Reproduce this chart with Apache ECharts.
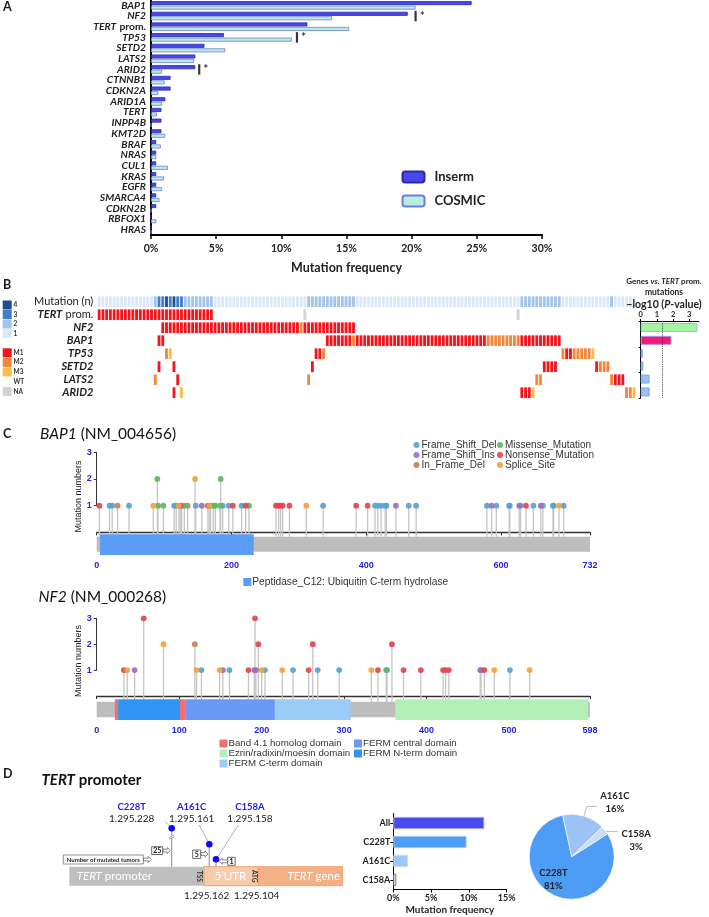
<!DOCTYPE html>
<html><head><meta charset="utf-8">
<script src="https://cdn.jsdelivr.net/npm/echarts@6/dist/echarts.min.js"></script>
<style>html,body{margin:0;padding:0;background:#fff}#c{width:709px;height:917px}</style>
</head><body><div id="c"></div>
<script>
// ================= DATA =================
// Panel A
const genesA = ['BAP1','NF2','TERT prom.','TP53','SETD2','LATS2','ARID2','CTNNB1','CDKN2A','ARID1A','TERT','INPP4B','KMT2D','BRAF','NRAS','CUL1','KRAS','EGFR','SMARCA4','CDKN2B','RBFOX1','HRAS'];
const insermFreq = [24.6,19.7,12.0,5.6,4.1,3.4,3.4,1.5,1.5,1.1,0.8,0.8,0.8,0.4,0.4,0.4,0.4,0.4,0.4,0.4,0,0];
const cosmicFreq = [20.3,13.9,15.2,10.8,5.7,3.3,0.85,1.05,0.55,0.85,0.45,0,1.1,0.75,0.4,1.3,1.0,0.85,0.65,0,0.4,0];
const sigGenes = ['NF2','TP53','ARID2'];
const sigPos = [20.3, 11.2, 3.7];

// Panel B (oncoprint) - runs [firstCol, lastCol, code]
const heatRows = ['Mutation (n)','TERT prom.','NF2','BAP1','TP53','SETD2','LATS2','ARID2'];
const nTumors = 144;
const mutCountRuns = [[0,14,1],[15,15,2],[16,17,3],[18,18,4],[19,19,3],[20,20,4],[21,22,3],[23,30,2],[31,55,1],[56,68,2],[69,112,1],[113,123,2],[124,136,1],[137,137,2],[138,143,1]];
const tertPromRuns = [[0,30,'M1'],[55,55,'NA'],[112,112,'NA']];
const nf2Runs = [[17,53,'M1'],[54,54,'M2'],[55,68,'M1']];
const bap1Runs = [[16,17,'M1'],[61,67,'M1'],[68,68,'M2'],[69,103,'M1'],[104,112,'M2'],[113,123,'M1']];
const tp53Runs = [[18,18,'M2'],[19,19,'M3'],[58,59,'M1'],[60,60,'M2'],[124,124,'M2'],[125,126,'M1'],[127,131,'M2'],[132,132,'M3']];
const setd2Runs = [[16,16,'M1'],[20,20,'M1'],[57,57,'M1'],[119,122,'M1'],[133,133,'M1'],[134,136,'M2']];
const lats2Runs = [[15,15,'M2'],[21,21,'M1'],[56,56,'M2'],[117,118,'M2'],[137,137,'M2'],[138,140,'M1']];
const arid2Runs = [[20,20,'M1'],[22,22,'M3'],[113,115,'M1'],[116,116,'M3'],[141,142,'M2'],[143,143,'M3']];
const pvalGenes = ['NF2','BAP1','TP53','SETD2','LATS2','ARID2'];
const pvalLog10 = [3.5, 1.9, 0.13, 0.17, 0.55, 0.55];
const pThreshold = 1.3;

// Panel C (lollipops) [position, count, type]  D=Frame_Shift_Del I=Frame_Shift_Ins F=In_Frame_Del M=Missense N=Nonsense S=Splice
const mutTypes = ['Frame_Shift_Del','Frame_Shift_Ins','In_Frame_Del','Missense_Mutation','Nonsense_Mutation','Splice_Site'];
const mutCodes = ['D','I','F','M','N','S'];
const bap1Length = 732;
const nf2Length = 598;
const bap1Muts = [[4,1,'N'],[19,1,'D'],[23,1,'D'],[31,1,'F'],[48,1,'D'],[84,1,'S'],[90,2,'M'],[91,1,'M'],[99,1,'M'],[115,1,'D'],[118,1,'D'],[122,1,'S'],[124,1,'N'],[126,1,'D'],[130,1,'M'],[135,1,'F'],[146,2,'S'],[147,1,'D'],[156,1,'I'],[165,1,'N'],[167,1,'S'],[169,1,'M'],[173,1,'M'],[176,1,'M'],[183,1,'M'],[184,2,'M'],[187,1,'D'],[196,1,'D'],[202,1,'N'],[215,1,'D'],[221,1,'N'],[226,1,'M'],[266,1,'N'],[270,1,'N'],[273,1,'N'],[276,1,'N'],[286,1,'N'],[311,1,'S'],[336,1,'D'],[385,1,'N'],[402,1,'N'],[413,1,'D'],[417,1,'D'],[422,1,'D'],[428,1,'D'],[430,1,'D'],[444,1,'I'],[463,1,'D'],[474,1,'D'],[579,1,'D'],[586,1,'I'],[593,1,'D'],[612,1,'D'],[613,1,'D'],[627,1,'I'],[629,1,'D'],[637,1,'N'],[648,1,'D'],[659,1,'I'],[662,1,'D'],[677,1,'D'],[678,1,'D'],[686,1,'S'],[693,1,'D']];
const nf2Muts = [[33,1,'N'],[37,1,'S'],[46,1,'I'],[57,3,'N'],[81,2,'S'],[119,2,'F'],[121,1,'S'],[127,1,'D'],[149,1,'S'],[153,1,'I'],[161,1,'D'],[184,1,'N'],[191,1,'I'],[192,3,'N'],[193,1,'I'],[196,2,'N'],[200,1,'S'],[204,1,'D'],[225,1,'S'],[238,1,'D'],[257,1,'N'],[262,2,'N'],[268,1,'D'],[294,1,'D'],[333,1,'S'],[341,1,'N'],[351,1,'D'],[352,1,'M'],[358,2,'N'],[372,1,'N'],[393,1,'N'],[420,1,'N'],[423,1,'N'],[427,1,'N'],[465,1,'D'],[466,1,'I'],[470,1,'N'],[482,1,'S'],[501,1,'D'],[525,1,'S']];
const bap1Domains = [['Peptidase_C12: Ubiquitin C-term hydrolase',5,233]];
const nf2Domains = [['Band 4.1 homolog domain',22,26],['FERM N-term domain',26,101],['Band 4.1 homolog domain',101,108],['FERM central domain',108,216],['FERM C-term domain',216,308],['Ezrin/radixin/moesin domain',362,596]];

// Panel D
const tertVariants = ['C228T','A161C','C158A'];
const tertCoords = ['1.295.228','1.295.161','1.295.158'];
const tertCounts = [25,5,1];
const tssCoord = '1.295.162';
const atgCoord = '1.295.104';
const freqCats = ['All','C228T','A161C','C158A'];
const freqVals = [12.05, 9.7, 1.95, 0.4];

// ================= STYLE =================
const F = 'Lato, "Liberation Sans", sans-serif';
const AR = '"Liberation Sans", Arial, sans-serif';
const heatColors = {1:'#DBE8F6',2:'#A2C4E9',3:'#3F7DC8',4:'#1E4E8E',M1:'#F3141C',M2:'#F2873A',M3:'#F9BD49',NA:'#D3D3D3'};
const typeColors = {D:'#58A3D4',I:'#9A6FC2',F:'#BF845C',M:'#5CB761',N:'#E1464E',S:'#F5A23B'};
const domainColors = {'Peptidase_C12: Ubiquitin C-term hydrolase':'#5B9CF7','Band 4.1 homolog domain':'#F07070','FERM N-term domain':'#2E95F5','FERM central domain':'#6A98F7','FERM C-term domain':'#9DCBF7','Ezrin/radixin/moesin domain':'#B2F0B8'};
const blueTick = '#2323E0';

// ================= BUILD =================
const codeList = [1,2,3,4,'M1','M2','M3','NA'];
const heatCells = [];
function addRuns(runs, row){ runs.forEach(r => { for (let c=r[0]; c<=r[1]; c++) heatCells.push([c, row, codeList.indexOf(r[2])]); }); }
addRuns(mutCountRuns,0); addRuns(tertPromRuns,1); addRuns(nf2Runs,2); addRuns(bap1Runs,3);
addRuns(tp53Runs,4); addRuns(setd2Runs,5); addRuns(lats2Runs,6); addRuns(arid2Runs,7);
const tumorIds = Array.from({length:nTumors}, (_, i) => String(i));

function stemSeries(muts, ax, base){
  return {type:'custom', xAxisIndex:ax, yAxisIndex:ax, z:2, silent:true, clip:false,
    data: muts.map(m => [m[0], m[1]]),
    renderItem: (p, api) => { const a = api.coord([api.value(0), api.value(1)]); const b = api.coord([api.value(0), base]);
      return {type:'line', shape:{x1:a[0], y1:a[1], x2:b[0], y2:b[1]}, style:{stroke:'#C5C5C5', lineWidth:1.3}}; }};
}
function rectSeries(name, ranges, color, ax, y0, y1, z){
  return {type:'custom', name:name, xAxisIndex:ax, yAxisIndex:ax, z:z, silent:true, clip:false,
    itemStyle:{color:color}, encode:{x:[0,1]},
    data: ranges,
    renderItem: (p, api) => { const a = api.coord([api.value(0), y0]); const b = api.coord([api.value(1), y1]);
      return {type:'rect', shape:{x:a[0], y:a[1], width:b[0]-a[0], height:b[1]-a[1]}, style:{fill:color}}; }};
}
function dotSeries(muts, ax){
  return mutCodes.map((c, i) => ({type:'scatter', name:mutTypes[i], xAxisIndex:ax, yAxisIndex:ax, z:6,
    symbol:'circle', symbolSize:5.8, itemStyle:{color:typeColors[c], opacity:0.92},
    data: muts.filter(m => m[2] === c).map(m => [m[0], m[1]])}));
}
function domainGroup(domains, ax, y0, y1){
  const names = [...new Set(domains.map(d => d[0]))];
  return names.map(n => rectSeries(n, domains.filter(d => d[0] === n).map(d => [d[1], d[2]]), domainColors[n], ax, y0, y1, 4));
}

const series = [];
// Panel A
series.push({type:'bar', name:'Inserm', xAxisIndex:0, yAxisIndex:0, data:insermFreq, barWidth:4, barGap:'12%',
  itemStyle:{color:'#4848F0', borderColor:'#2B2BA8', borderWidth:0.8}});
series.push({type:'bar', name:'COSMIC', xAxisIndex:0, yAxisIndex:0, data:cosmicFreq, barWidth:4,
  itemStyle:{color:'#B8EEDF', borderColor:'#6F7DDB', borderWidth:0.8}});
series.push({type:'scatter', xAxisIndex:0, yAxisIndex:0, symbol:'rect', symbolSize:[2.2,10.5], itemStyle:{color:'#000'},
  data: sigGenes.map((g, i) => [sigPos[i], g]),
  label:{show:true, position:'right', distance:3, formatter:'*', fontFamily:F, fontWeight:'bold', fontSize:12, color:'#000'}});
// Panel B heatmap
series.push({type:'custom', xAxisIndex:1, yAxisIndex:1, silent:true, data:heatCells,
  renderItem: (p, api) => { const c = api.coord([api.value(0), api.value(1)]); const s = api.size([1,1]);
    return {type:'rect', shape:{x:c[0]-s[0]/2+0.45, y:c[1]-s[1]/2+1.15, width:s[0]-0.9, height:s[1]-2.3},
      style:{fill: heatColors[codeList[api.value(2)]]}}; }});
// Panel B p-value bars
const pvalStyles = [{color:'#A3F5A0', borderColor:'#9DB6F0'},{color:'#EC1C78', borderColor:'#B48FE0'}];
series.push({type:'bar', xAxisIndex:2, yAxisIndex:2, barWidth:9,
  data: pvalLog10.map((v, i) => ({value:v, itemStyle: Object.assign({borderWidth:1}, pvalStyles[i] || {color:'#9CC2F5', borderColor:'#7FA6E8'})})),
  markLine:{silent:true, symbol:'none', label:{show:false}, lineStyle:{type:'dotted', color:'#333', width:0.9}, data:[{xAxis:pThreshold}]}});
// Panel C BAP1
series.push(stemSeries(bap1Muts, 3, -0.161));
series.push(rectSeries('bap1Backbone', [[0, bap1Length]], '#BDBDBD', 3, -0.161, -0.723, 3));
series.push(...domainGroup(bap1Domains, 3, -0.071, -0.846));
series.push(...dotSeries(bap1Muts, 3));
// Panel C NF2
series.push(stemSeries(nf2Muts, 5, -0.22));
series.push(rectSeries('nf2Backbone', [[0, nf2Length]], '#BDBDBD', 5, -0.22, -0.822, 3));
series.push(...domainGroup(nf2Domains, 5, -0.127, -0.927));
series.push(...dotSeries(nf2Muts, 5));
// Panel D bars
const dBarColors = [{color:'#4A4AEE', borderColor:'#A9A9E8'},{color:'#4D9CF5', borderColor:'#A9C8EE'},{color:'#9DC7F7', borderColor:'#C9DCF2'},{color:'#FFFFFF', borderColor:'#777'}];
series.push({type:'bar', xAxisIndex:7, yAxisIndex:7, barWidth:12.3,
  data: freqVals.map((v, i) => ({value:v, itemStyle:Object.assign({borderWidth:1}, dBarColors[i])}))});
// Panel D pie
const pieColors = ['#4D9CF5','#9DC3F5','#C6DCF7'];
const pieLabelLines = [null, {length:10, length2:10}, {length:2, length2:12}];
const pieLabelShift = [{dx:-9, dy:0}, {dx:-2, dy:-4}, {dx:-2, dy:9}];
series.push({type:'pie', center:[571.7, 856.7], radius:42.5, startAngle:32.6, clockwise:true, percentPrecision:0,
  silent:true, itemStyle:{borderColor:'#fff', borderWidth:0.6},
  label:{formatter:'{n|{b}}\n{p|{d}%}', rich:{n:{width:30, align:'center', fontFamily:F, fontWeight:'bold', fontSize:9.5, color:'#222', lineHeight:13},
    p:{width:30, align:'center', fontFamily:F, fontWeight:'bold', fontSize:9.5, color:'#222', lineHeight:13}}},
  labelLine:{lineStyle:{color:'#BBBBBB', width:1}},
  labelLayout: (params) => pieLabelShift[params.dataIndex],
  data: tertVariants.map((n, i) => ({name:n, value:tertCounts[i], itemStyle:{color:pieColors[i]},
    label: i === 0 ? {position:'inside'} : {position:'outside'},
    labelLine: i === 0 ? {show:false} : Object.assign({show:true}, pieLabelLines[i])}))});

// ================= AXES =================
const noGrid = {outerBoundsMode:'none', containLabel:false};
const grids = [
  Object.assign({left:151, top:0, width:391, height:235}, noGrid),
  Object.assign({left:97.3, top:295.2, width:538.6, height:104}, noGrid),
  Object.assign({left:640.7, top:321, width:58.3, height:77.4}, noGrid),
  Object.assign({left:96.7, top:452.3, width:493.3, height:105}, noGrid),
  Object.assign({left:96.7, top:452.3, width:493.3, height:53.4}, noGrid),
  Object.assign({left:96.7, top:618.3, width:493.2, height:104}, noGrid),
  Object.assign({left:96.7, top:618.3, width:493.2, height:51.8}, noGrid),
  Object.assign({left:393.3, top:813.5, width:113.3, height:76}, noGrid)
];
const hidden = {show:false};
const blk = c => ({show:true, lineStyle:{color:c||'#000', width:1}});
const xAxis = [
  {gridIndex:0, type:'value', min:0, max:30, interval:5, splitLine:hidden,
    axisLine:{show:true, lineStyle:{color:'#000', width:2}}, axisTick:{show:true, length:4, lineStyle:{color:'#000', width:1.5}},
    axisLabel:{formatter:'{value}%', margin:8, fontFamily:F, fontWeight:'bold', fontSize:10.5, color:'#222'},
    name:'Mutation frequency', nameLocation:'middle', nameGap:26, nameTextStyle:{fontFamily:F, fontWeight:'bold', fontSize:12.5, color:'#222'}},
  {gridIndex:1, type:'category', data:tumorIds, show:false},
  {gridIndex:2, type:'value', position:'top', min:0, max:3.6, interval:1, splitLine:hidden,
    axisLine:blk(), axisTick:{show:true, length:2, lineStyle:{color:'#000'}},
    axisLabel:{margin:2, showMaxLabel:false, fontFamily:F, fontWeight:'bold', fontSize:7.5, color:'#222'}},
  {gridIndex:3, type:'value', min:0, max:bap1Length, interval:200, splitLine:hidden,
    axisLine:{show:true, lineStyle:{color:'#333', width:1.3}}, axisTick:{show:true, length:3, lineStyle:{color:'#333'}},
    axisLabel:{margin:4, showMaxLabel:true, fontFamily:AR, fontWeight:'bold', fontSize:9, color:blueTick}},
  {gridIndex:4, type:'value', min:0, max:bap1Length, show:false},
  {gridIndex:5, type:'value', min:0, max:nf2Length, interval:100, splitLine:hidden,
    axisLine:{show:true, lineStyle:{color:'#333', width:1.3}}, axisTick:{show:true, length:3, lineStyle:{color:'#333'}},
    axisLabel:{margin:4, showMaxLabel:true, fontFamily:AR, fontWeight:'bold', fontSize:9, color:blueTick}},
  {gridIndex:6, type:'value', min:0, max:nf2Length, show:false},
  {gridIndex:7, type:'value', min:0, max:15, interval:5, splitLine:hidden,
    axisLine:blk(), axisTick:{show:true, length:3, lineStyle:{color:'#000'}},
    axisLabel:{formatter:'{value}%', margin:4, fontFamily:F, fontWeight:'bold', fontSize:9, color:'#222'},
    name:'Mutation frequency', nameLocation:'middle', nameGap:15, nameTextStyle:{fontFamily:F, fontWeight:'bold', fontSize:10, color:'#222'}}
];
const richA = {i:{fontFamily:F, fontStyle:'italic', fontWeight:'bold', fontSize:10.3, color:'#222'}, n:{fontFamily:F, fontWeight:'bold', fontSize:10.3, color:'#222'}};
const richB = {i:{fontFamily:F, fontStyle:'italic', fontWeight:'bold', fontSize:11, color:'#222'}, n:{fontFamily:F, fontSize:11, color:'#222'}};
const stubAxis = (gi) => ({gridIndex:gi, type:'value', min:1, max:3, interval:1, splitLine:hidden,
  axisLine:{show:true, lineStyle:{color:'#333', width:1}}, axisTick:{show:true, length:3, lineStyle:{color:'#333'}},
  axisLabel:{margin:5, fontFamily:AR, fontWeight:'bold', fontSize:9, color:blueTick}});
const yAxis = [
  {gridIndex:0, type:'category', data:genesA, inverse:true, axisLine:{show:true, lineStyle:{color:'#000', width:2}}, axisTick:hidden,
    axisLabel:{interval:0, margin:5, formatter: v => v === 'TERT prom.' ? '{i|TERT} {n|prom.}' : '{i|' + v + '}', rich:richA}},
  {gridIndex:1, type:'category', data:heatRows, inverse:true, axisLine:hidden, axisTick:hidden,
    axisLabel:{interval:0, margin:4, formatter: v => v === 'Mutation (n)' ? '{n|Mutation (n)}' : (v === 'TERT prom.' ? '{i|TERT} {n|prom.}' : '{i|' + v + '}'), rich:richB}},
  {gridIndex:2, type:'category', data:pvalGenes, inverse:true, axisLine:blk(), axisTick:{show:true, length:2, lineStyle:{color:'#000'}}, axisLabel:hidden},
  {gridIndex:3, type:'value', min:-0.933, max:3, show:false},
  stubAxis(4),
  {gridIndex:5, type:'value', min:-1.015, max:3, show:false},
  stubAxis(6),
  {gridIndex:7, type:'category', data:freqCats, inverse:true, axisLine:blk(), axisTick:{show:true, length:3, alignWithLabel:true, lineStyle:{color:'#000'}},
    axisLabel:{margin:3, fontFamily:F, fontWeight:'bold', fontSize:9, color:'#222'}}
];

// ================= LEGENDS =================
const legends = [
  {data:['Inserm','COSMIC'], orient:'vertical', left:401.5, top:170.5, itemWidth:22, itemHeight:11, itemGap:11, padding:0, selectedMode:false,
    textStyle:{fontFamily:F, fontWeight:'bold', fontSize:13, color:'#222', padding:[0,0,0,5]}},
  {data:mutTypes.slice(0,3), orient:'vertical', left:413.5, top:440, icon:'circle', itemWidth:6, itemHeight:6, itemGap:0, padding:0, selectedMode:false,
    textStyle:{fontFamily:AR, fontSize:10, color:'#333', lineHeight:9.7, padding:[0,0,0,-3]}},
  {data:mutTypes.slice(3), orient:'vertical', left:497, top:440, icon:'circle', itemWidth:6, itemHeight:6, itemGap:0, padding:0, selectedMode:false,
    textStyle:{fontFamily:AR, fontSize:10, color:'#333', lineHeight:9.7, padding:[0,0,0,-3]}},
  {data:[bap1Domains[0][0]], left:243.3, top:577, icon:'rect', itemWidth:8, itemHeight:8, padding:0, selectedMode:false,
    textStyle:{fontFamily:AR, fontSize:10.2, color:'#333', padding:[0,0,0,-4]}},
  {data:['Band 4.1 homolog domain','Ezrin/radixin/moesin domain','FERM C-term domain'], orient:'vertical', left:219.5, top:738.5, icon:'rect', itemWidth:8, itemHeight:8, itemGap:0, padding:0, selectedMode:false,
    textStyle:{fontFamily:AR, fontSize:9.7, color:'#333', lineHeight:9.7, padding:[0,0,0,-4]}},
  {data:['FERM central domain','FERM N-term domain'], orient:'vertical', left:354, top:738.5, icon:'rect', itemWidth:8, itemHeight:8, itemGap:0, padding:0, selectedMode:false,
    textStyle:{fontFamily:AR, fontSize:9.7, color:'#333', lineHeight:9.7, padding:[0,0,0,-4]}}
];

// ================= GRAPHICS (labels & schematic) =================
const G = [];
function T(x, y, text, size, st, el){ G.push(Object.assign({type:'text', x:x, y:y, silent:true, z:100,
  style:Object.assign({text:text, fontFamily:F, fontSize:size, fill:'#1a1a1a', align:'left', verticalAlign:'middle'}, st||{})}, el||{})); }
function R(x, y, w, h, fill, stroke, lw){ G.push({type:'rect', silent:true, z:90, shape:{x:x, y:y, width:w, height:h}, style:{fill:fill, stroke:stroke||null, lineWidth:lw||0}}); }
function L(x1, y1, x2, y2, c, w){ G.push({type:'line', silent:true, z:95, shape:{x1:x1, y1:y1, x2:x2, y2:y2}, style:{stroke:c, lineWidth:w}}); }
function arrow(xs, xe, yc){ const d = xe > xs ? 1 : -1, h = 3*d;
  G.push({type:'polygon', silent:true, z:96, shape:{points:[[xs,yc-1.4],[xe-h,yc-1.4],[xe-h,yc-3],[xe,yc],[xe-h,yc+3],[xe-h,yc+1.4],[xs,yc+1.4]]}, style:{fill:'#fff', stroke:'#555', lineWidth:0.7}}); }

// panel letters
T(3, 7, 'A', 12.5, {fontWeight:'bold'});
T(3, 285, 'B', 12.5, {fontWeight:'bold'});
T(3, 434, 'C', 12.5, {fontWeight:'bold'});
T(3, 774, 'D', 12.5, {fontWeight:'bold'});
// panel C titles
const richTitle = {i:{fontFamily:F, fontStyle:'italic', fontSize:15.5, fill:'#111'}, n:{fontFamily:F, fontSize:15.5, fill:'#111'}};
T(40, 434, '{i|BAP1} {n|(NM_004656)}', 15.5, {rich:richTitle});
T(38.5, 597, '{i|NF2} {n|(NM_000268)}', 15.5, {rich:richTitle});
T(41.5, 780, '{i|TERT} {n|promoter}', 15, {rich:{i:{fontFamily:F, fontStyle:'italic', fontWeight:'bold', fontSize:15, fill:'#111'}, n:{fontFamily:F, fontWeight:'bold', fontSize:15, fill:'#111'}}});
// mutation numbers axis titles
T(79, 496.5, 'Mutation numbers', 9, {fontFamily:AR, align:'center', fill:'#222'}, {rotation:Math.PI/2});
T(79, 661, 'Mutation numbers', 9, {fontFamily:AR, align:'center', fill:'#222'}, {rotation:Math.PI/2});
// p-value panel titles
T(664, 281, '{n|Genes }{i|vs. TERT}{n| prom.}', 8, {align:'center', rich:{n:{fontFamily:F, fontSize:8, fontWeight:'bold', fill:'#222'}, i:{fontFamily:F, fontSize:8, fontWeight:'bold', fontStyle:'italic', fill:'#222'}}});
T(664, 292, 'mutations', 8.5, {align:'center', fontWeight:'bold', fill:'#222'});
T(664, 304.3, '{n|\u2212log10 (}{i|P}{n|-value)}', 10.5, {align:'center', rich:{n:{fontFamily:F, fontSize:10.5, fontWeight:'bold', fill:'#222'}, i:{fontFamily:F, fontSize:10.5, fontWeight:'bold', fontStyle:'italic', fill:'#222'}}});
// heatmap legend
const hlItems = [['4',300.5,heatColors[4]],['3',310,heatColors[3]],['2',319.5,heatColors[2]],['1',329,heatColors[1]],['M1',348.3,heatColors.M1],['M2',357.9,heatColors.M2],['M3',367.5,heatColors.M3],['WT',377.3,null],['NA',387,heatColors.NA]];
hlItems.forEach(it => { if (it[2]) R(2.7, it[1], 9, 9, it[2]); T(13.5, it[1]+4.5, it[0], 6.5, {fontWeight:'bold', fill:'#333'}); });

// TERT promoter schematic
const barTop = 866.7, barH = 19;
R(69.3, barTop, 134.7, barH, '#BFBFBF');
R(204, barTop, 54.3, barH, '#F8CBAD', '#EFA473', 1);
R(258.3, barTop, 84.4, barH, '#F4B183', '#EFA473', 1);
T(76.7, barTop+barH/2, '{i|TERT} {n|promoter}', 11.5, {rich:{i:{fontFamily:F, fontStyle:'italic', fontSize:11.5, fill:'#fff'}, n:{fontFamily:F, fontSize:11.5, fill:'#fff'}}});
T(230.5, barTop+barH/2, '5\u2019UTR', 11.5, {align:'center', fill:'#fff'});
T(340, barTop+barH/2, '{i|TERT} {n|gene}', 11.5, {align:'right', rich:{i:{fontFamily:F, fontStyle:'italic', fontSize:11.5, fill:'#fff'}, n:{fontFamily:F, fontSize:11.5, fill:'#fff'}}});
T(199.5, barTop+barH/2, 'TSS', 6.5, {align:'center', fontWeight:'bold', fill:'#333'}, {rotation:-Math.PI/2});
T(254.5, barTop+barH/2, 'ATG', 6.5, {align:'center', fontWeight:'bold', fill:'#333'}, {rotation:-Math.PI/2});
T(206.7, 895.7, tssCoord, 10, {align:'center', fill:'#222'});
T(256.7, 895.7, atgCoord, 10, {align:'center', fill:'#222'});
// lollipops of the promoter variants (schematic, not to scale)
const vX = [171.7, 209.3, 216], vY = [828.3, 844.3, 859.2], vLab = [131.7, 191.7, 250];
const leadFrom = [[165, 821.5],[199.3, 825],[238.3, 825]], leadTo = [[170.5, 826.8],[208.3, 842],[218, 856.5]];
tertVariants.forEach((v, i) => {
  L(vX[i], barTop, vX[i], vY[i], '#A6A6A6', 1.3);
  L(leadFrom[i][0], leadFrom[i][1], leadTo[i][0], leadTo[i][1], '#A6A6A6', 0.9);
  G.push({type:'circle', silent:true, z:97, shape:{cx:vX[i], cy:vY[i], r:3.3}, style:{fill:'#0A0AF5'}});
  T(vLab[i], 806.7, v, 9.5, {align:'center', fontWeight:'bold', fill:'#2424E6'});
  T(vLab[i], 818.5, tertCoords[i], 10, {align:'center', fill:'#222'});
});
// break mark on the C228T stem
L(169, 837.8, 174.3, 835.3, '#fff', 2.2);
L(169, 837.3, 174.3, 834.8, '#8A8A8A', 0.8);
L(169, 839.2, 174.3, 836.7, '#8A8A8A', 0.8);
// count boxes
const cBox = [[151.7,846.7,11,7.8],[192.7,850,8,8.4],[227.7,857.3,7.5,8]];
tertCounts.forEach((n, i) => {
  const b = cBox[i];
  R(b[0], b[1], b[2], b[3], '#fff', '#444', 0.8);
  T(b[0]+b[2]/2, b[1]+b[3]/2+0.3, String(n), 7, {align:'center', fontWeight:'bold', fill:'#111'});
});
arrow(163.2, 170.3, 850.6);
arrow(201, 208, 854);
arrow(227.3, 219.2, 861.3);
R(63.3, 855, 80, 9, '#fff', '#666', 0.7);
T(103.3, 859.6, 'Number of mutated tumors', 6, {align:'center', fontWeight:'bold', fill:'#222'});
arrow(143.5, 151.3, 859.5);

const option = {
  animation:false,
  backgroundColor:'#fff',
  grid:grids, xAxis:xAxis, yAxis:yAxis, legend:legends, series:series, graphic:{elements:G}
};
const chart = echarts.init(document.getElementById('c'), null, {renderer:'canvas', width:709, height:917});
chart.setOption(option);
</script></body></html>
